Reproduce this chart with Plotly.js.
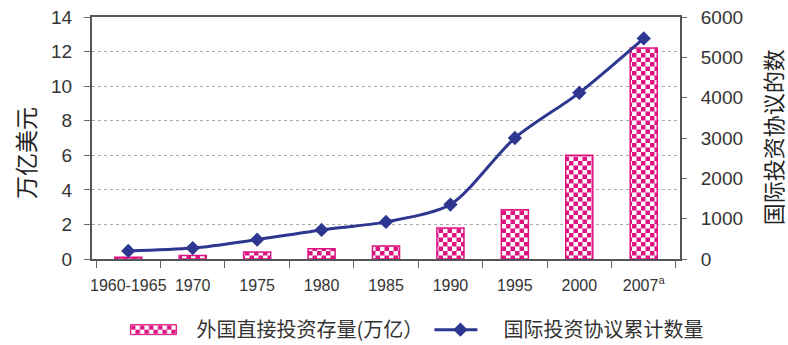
<!DOCTYPE html>
<html>
<head>
<meta charset="utf-8">
<script src="https://cdn.plot.ly/plotly-3.0.1.min.js"></script>
<style>
  html, body { margin: 0; padding: 0; background: #fff; }
  #chart { width: 788px; height: 345px; }
</style>
</head>
<body>
<div id="chart"></div>
<script>
// Periods on the category axis
const categories = ['1960-1965', '1970', '1975', '1980', '1985', '1990', '1995', '2000', '2007'];
const tickLabels = ['1960-1965', '1970', '1975', '1980', '1985', '1990', '1995', '2000', '2007<sup>a</sup>'];

// Stock of foreign direct investment (trillion USD)
const fdiStock = [0.1, 0.2, 0.4, 0.6, 0.75, 1.8, 2.85, 6.0, 12.2];

// Cumulative number of international investment agreements
const agreements = [200, 270, 480, 720, 920, 1350, 3000, 4120, 5470];

const seriesNames = ['外国直接投资存量(万亿）', '国际投资协议累计数量'];
const axisTitles = ['万亿美元', '国际投资协议的数'];

const MAGENTA = '#DD1380';
const NAVY = '#2E3790';
const NUM_FONT = 'Liberation Sans, Arial, sans-serif';
const CJK_FONT = 'Noto Sans CJK SC, sans-serif';

const traces = [
  {
    type: 'bar',
    name: seriesNames[0],
    x: categories,
    y: fdiStock,
    width: 0.42,
    marker: { color: MAGENTA, line: { color: MAGENTA, width: 1.5 } },
    yaxis: 'y'
  },
  {
    type: 'scatter',
    mode: 'lines+markers',
    name: seriesNames[1],
    x: categories,
    y: agreements,
    yaxis: 'y2',
    line: { color: NAVY, width: 3, shape: 'spline', smoothing: 0.8 },
    marker: { symbol: 'diamond', size: 11, color: NAVY }
  }
];

const layout = {
  width: 788,
  height: 345,
  margin: { l: 92, r: 108, t: 17, b: 86, autoexpand: false },
  paper_bgcolor: '#fff',
  plot_bgcolor: '#fff',
  showlegend: true,
  legend: {
    orientation: 'h',
    xref: 'paper', yref: 'paper',
    x: -0.001, xanchor: 'left',
    y: -0.292, yanchor: 'middle',
    indentation: 19,
    font: { family: CJK_FONT, size: 20, color: '#333' },
    itemwidth: 76,
    entrywidth: 197,
    traceorder: 'normal'
  },
  xaxis: {
    type: 'category',
    tickvals: categories,
    ticktext: tickLabels,
    tickangle: 0,
    tickson: 'boundaries',
    ticks: 'outside', ticklen: 7, tickwidth: 1, tickcolor: '#666',
    showline: true, linecolor: '#555', linewidth: 2, mirror: true,
    showgrid: false,
    tickfont: { family: NUM_FONT, size: 16, color: '#333' },
    ticklabelstandoff: 11,
    automargin: false
  },
  yaxis: {
    range: [0, 14],
    dtick: 2,
    ticks: 'outside', ticklen: 6, tickcolor: '#666',
    showline: true, linecolor: '#555', linewidth: 2,
    showgrid: true, gridcolor: '#aaa', griddash: 'dot', gridwidth: 1,
    zeroline: false,
    tickfont: { family: NUM_FONT, size: 19, color: '#333' },
    ticklabelstandoff: 8,
    automargin: false
  },
  yaxis2: {
    overlaying: 'y',
    side: 'right',
    range: [0, 6000],
    dtick: 1000,
    ticks: 'outside', ticklen: 5, tickcolor: '#666',
    showline: true, linecolor: '#555', linewidth: 2,
    showgrid: false, zeroline: false,
    tickfont: { family: NUM_FONT, size: 19, color: '#333' },
    ticklabelstandoff: 10,
    automargin: false
  },
  annotations: [
    {
      text: axisTitles[0], textangle: -90, showarrow: false,
      xref: 'paper', yref: 'paper', x: -0.114, y: 0.438,
      xanchor: 'center', yanchor: 'middle',
      font: { family: CJK_FONT, size: 23, color: '#222' }
    },
    {
      text: axisTitles[1], textangle: -90, showarrow: false,
      xref: 'paper', yref: 'paper', x: 1.157, y: 0.504,
      xanchor: 'center', yanchor: 'middle',
      font: { family: CJK_FONT, size: 22, color: '#222' }
    }
  ]
};

// Checkerboard fill shared by the bars and their legend swatch
function applyChecker(gd) {
  const NS = 'http://www.w3.org/2000/svg';
  if (!document.getElementById('checker')) {
    const svg = gd.querySelector('svg.main-svg');
    let defs = svg.querySelector('defs');
    if (!defs) { defs = document.createElementNS(NS, 'defs'); svg.insertBefore(defs, svg.firstChild); }
    const pat = document.createElementNS(NS, 'pattern');
    pat.setAttribute('id', 'checker');
    pat.setAttribute('patternUnits', 'userSpaceOnUse');
    pat.setAttribute('width', '9');
    pat.setAttribute('height', '9');
    const cells = [[0, 0, 9, 9, '#fff'], [0, 0, 4.5, 4.5, MAGENTA], [4.5, 4.5, 4.5, 4.5, MAGENTA]];
    cells.forEach(([x, y, w, h, c]) => {
      const r = document.createElementNS(NS, 'rect');
      r.setAttribute('x', x); r.setAttribute('y', y);
      r.setAttribute('width', w); r.setAttribute('height', h);
      r.setAttribute('fill', c);
      pat.appendChild(r);
    });
    defs.appendChild(pat);
  }
  gd.querySelectorAll('.barlayer .point path').forEach(el => { el.style.fill = 'url(#checker)'; });
  const legendTraces = gd.querySelectorAll('g.legend g.traces');
  if (legendTraces.length > 1) {
    // wide checkered swatch for the bar series
    legendTraces[0].querySelectorAll('.legendpoints path').forEach(el => {
      el.setAttribute('d', 'M23,5H-23V-5H23Z');
      el.style.fill = 'url(#checker)';
      el.style.stroke = MAGENTA;
      el.style.strokeWidth = '1px';
    });
    // shorter line sample for the agreements series
    legendTraces[1].querySelectorAll('.legendlines path').forEach(el => {
      el.setAttribute('d', 'M17,0h43');
    });
  }
}

Plotly.newPlot('chart', traces, layout, { displayModeBar: false, staticPlot: true }).then(gd => {
  gd.on('plotly_afterplot', () => applyChecker(gd));
  applyChecker(gd);
  setTimeout(() => applyChecker(gd), 50);
  setTimeout(() => applyChecker(gd), 300);
});
</script>
</body>
</html>
